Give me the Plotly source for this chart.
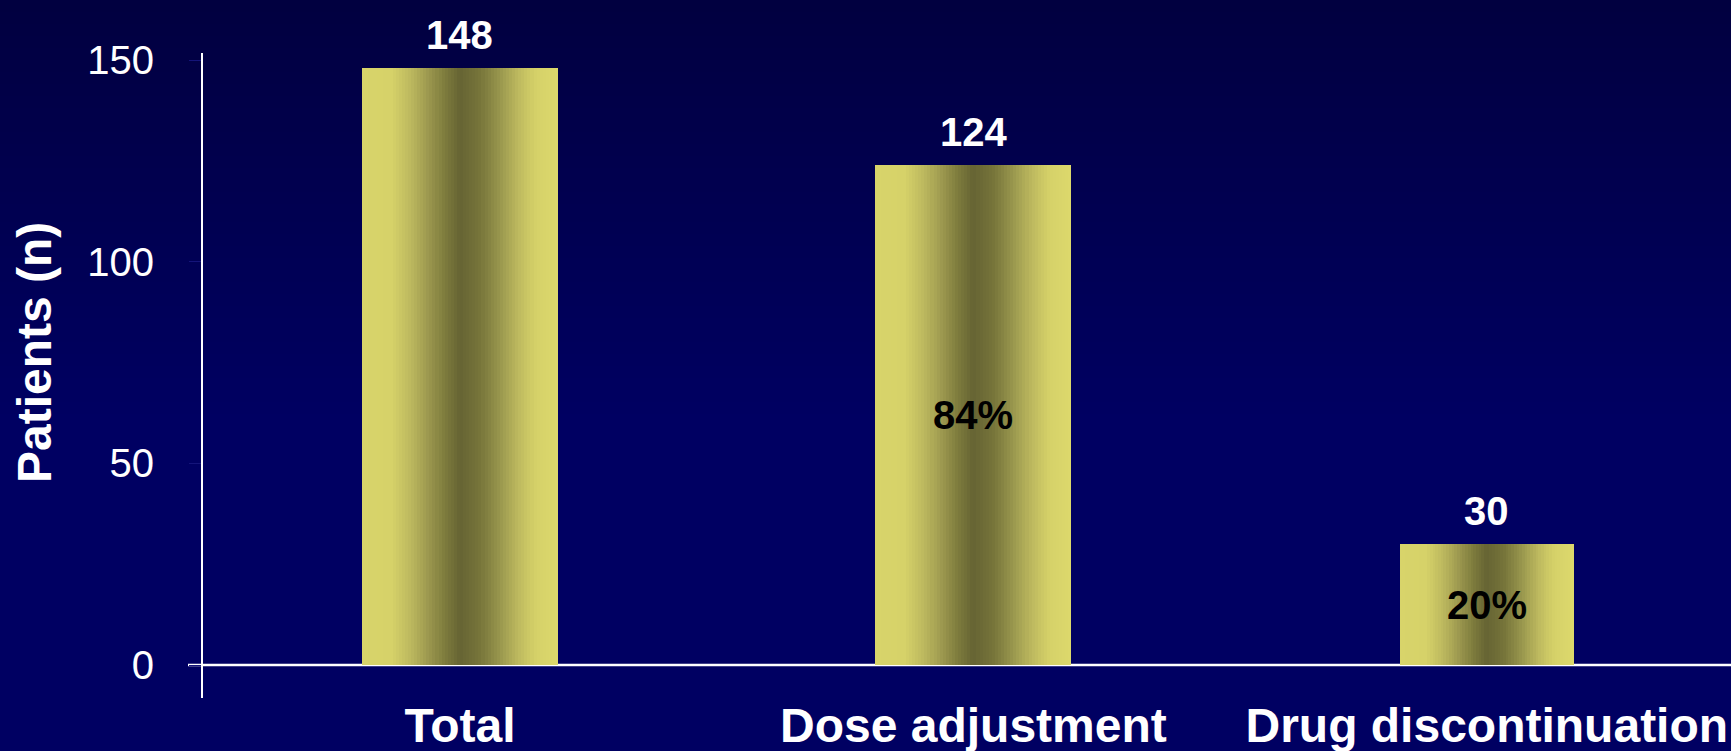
import plotly.graph_objects as go

# ---- data ----
categories = ["Total", "Dose adjustment", "Drug discontinuation"]
patients = [148, 124, 30]
share_labels = ["", "84%", "20%"]
bar_widths = [0.382, 0.382, 0.338]
y_ticks = [0, 50, 100, 150]
y_title = "Patients (n)"

# ---- styling ----
FONT = "Liberation Sans, Arial, sans-serif"
W, H = 1731, 751
M_L, M_R, M_T, M_B = 202, 0, 60, 86
PLOT_W = W - M_L - M_R
PLOT_H = H - M_T - M_B

# cylinder-like horizontal shading across each bar (light edges, dark centre)
shade_stops = [
    (0.00, (0xD8, 0xD4, 0x6A)),
    (0.15, (0xD6, 0xD2, 0x69)),
    (0.25, (0xBC, 0xB8, 0x5E)),
    (0.34, (0x9C, 0x98, 0x4F)),
    (0.42, (0x7E, 0x7C, 0x3D)),
    (0.50, (0x66, 0x64, 0x33)),
    (0.60, (0x76, 0x74, 0x3A)),
    (0.70, (0x98, 0x96, 0x4D)),
    (0.80, (0xBE, 0xBA, 0x5F)),
    (0.89, (0xD6, 0xD2, 0x69)),
    (1.00, (0xDC, 0xD8, 0x6C)),
]


def shade(t):
    for (t0, c0), (t1, c1) in zip(shade_stops[:-1], shade_stops[1:]):
        if t0 <= t <= t1:
            f = (t - t0) / (t1 - t0) if t1 > t0 else 0
            r, g, b = (round(a + (bb - a) * f) for a, bb in zip(c0, c1))
            return f"rgb({r},{g},{b})"
    r, g, b = shade_stops[-1][1]
    return f"rgb({r},{g},{b})"


fig = go.Figure()

# Each bar is built from overlapping bar layers: layer k starts k steps in
# from the left edge and runs to the right edge, so the visible part of each
# layer is one narrow vertical stripe of the shading.
N_STRIPES = 64
for k in range(N_STRIPES):
    offsets = [-w / 2 + k * w / N_STRIPES for w in bar_widths]
    widths = [w - k * w / N_STRIPES for w in bar_widths]
    fig.add_trace(go.Bar(
        x=categories,
        y=patients,
        width=widths,
        offset=offsets,
        marker=dict(color=shade((k + 0.5) / N_STRIPES), line=dict(width=0)),
        hoverinfo="skip" if k else "x+y",
        showlegend=False,
    ))


def px_to_paper_y(p):
    return (H - M_B - p) / PLOT_H


def px_to_paper_x(p):
    return (p - M_L) / PLOT_W


shapes = []
# navy background, darker toward the top
top_rgb, low_rgb, fade_end = (0x01, 0x00, 0x40), (0x00, 0x00, 0x62), 420
step = 6
for p in range(0, H, step):
    f = min(p / fade_end, 1.0)
    r, g, b = (round(a + (bb - a) * f) for a, bb in zip(top_rgb, low_rgb))
    shapes.append(dict(
        type="rect", xref="paper", yref="paper", layer="below",
        x0=px_to_paper_x(-2), x1=px_to_paper_x(W + 2),
        y0=px_to_paper_y(p + step + 1), y1=px_to_paper_y(p),
        fillcolor=f"rgb({r},{g},{b})", line=dict(width=0),
    ))

# axis lines crossing at the origin
shapes.append(dict(
    type="line", xref="paper", yref="paper", layer="below",
    x0=px_to_paper_x(188), x1=1.0, y0=0, y1=0,
    line=dict(color="white", width=2.5),
))
shapes.append(dict(
    type="line", xref="paper", yref="paper", layer="below",
    x0=0, x1=0, y0=px_to_paper_y(698), y1=px_to_paper_y(53),
    line=dict(color="white", width=2),
))

annotations = []
for cat, v, s in zip(categories, patients, share_labels):
    annotations.append(dict(
        x=cat, y=v, xref="x", yref="y", text=str(v), showarrow=False,
        yanchor="bottom", yshift=9,
        font=dict(family=FONT, size=40, color="white", weight="bold"),
    ))
    if s:
        annotations.append(dict(
            x=cat, y=v / 2, xref="x", yref="y", text=s, showarrow=False,
            yanchor="middle",
            font=dict(family=FONT, size=40, color="black", weight="bold"),
        ))

# vertical axis title
annotations.append(dict(
    x=px_to_paper_x(34), y=px_to_paper_y(353), xref="paper", yref="paper",
    text=y_title, textangle=-90, showarrow=False,
    xanchor="center", yanchor="middle",
    font=dict(family=FONT, size=48, color="white", weight="bold"),
))

fig.update_layout(
    width=W, height=H,
    margin=dict(l=M_L, r=M_R, t=M_T, b=M_B, autoexpand=False),
    paper_bgcolor="#000062",
    plot_bgcolor="rgba(0,0,0,0)",
    barmode="overlay",
    bargap=0,
    shapes=shapes,
    annotations=annotations,
    showlegend=False,
    xaxis=dict(
        type="category",
        range=[-0.5025, 2.4757],
        showgrid=False, zeroline=False, showline=False, ticks="",
        tickfont=dict(family=FONT, size=48, color="white", weight="bold"),
        ticklabelstandoff=28,
    ),
    yaxis=dict(
        range=[0, 150],
        tickvals=y_ticks,
        showgrid=False, zeroline=False, showline=False,
        ticks="outside", ticklen=12, tickwidth=1, tickcolor="#14147a",
        ticklabelstandoff=27,
        tickfont=dict(family=FONT, size=40, color="white"),
    ),
)

fig.write_html("out.html")
